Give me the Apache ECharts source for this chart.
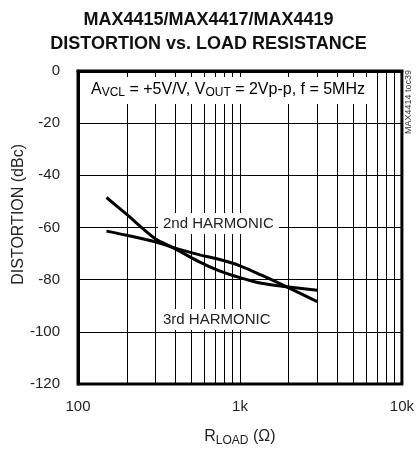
<!DOCTYPE html>
<html><head><meta charset="utf-8">
<script src="https://cdn.jsdelivr.net/npm/echarts@6/dist/echarts.min.js"></script>
<style>html,body{margin:0;padding:0;background:#fff}#c{width:417px;height:452px}</style>
</head><body><div id="c"></div>
<script>
var FONT = '"Liberation Sans Narrow", "Liberation Sans", sans-serif';
var titleLines = ['MAX4415/MAX4417/MAX4419', 'DISTORTION vs. LOAD RESISTANCE'];
var xTickLabels = {100: '100', 1000: '1k', 10000: '10k'};
var minorGridX = [200, 300, 400, 500, 600, 700, 800, 900, 2000, 3000, 4000, 5000, 6000, 7000, 8000, 9000];
// curve that starts steep and flattens
var curveA = [[150, -48.5], [200, -55.0], [300, -64.3], [383, -67.6], [557, -73.1], [739, -76.5], [1000, -79.2], [1359, -81.4], [1932, -82.7], [3000, -84.1]];
// curve that starts flat and steepens
var curveB = [[150, -61.4], [200, -63.0], [300, -65.5], [383, -67.6], [557, -70.4], [739, -72.2], [1000, -74.7], [1359, -78.3], [1932, -82.7], [3000, -88.4]];

var chart = echarts.init(document.getElementById('c'));
chart.setOption({
  animation: false,
  backgroundColor: '#fff',
  textStyle: {fontFamily: FONT},
  title: {
    text: titleLines.join('\n'),
    left: 'center', top: 3,
    textStyle: {fontFamily: FONT, fontWeight: 'bold', fontSize: 18, lineHeight: 24, color: '#111'}
  },
  grid: {left: 78, right: 12, top: 71, bottom: 55, show: true, borderColor: '#000', borderWidth: 3, backgroundColor: 'transparent'},
  xAxis: {
    type: 'log', logBase: 10, min: 100, max: 10000,
    axisLine: {show: true, lineStyle: {color: '#000', width: 3}},
    axisTick: {show: false},
    axisLabel: {fontFamily: FONT, fontSize: 15, color: '#222', margin: 15,
      formatter: function (v) { return xTickLabels[Math.round(v)] || ''; }},
    splitLine: {show: true, lineStyle: {color: '#000', width: 1}},
    name: '{r|R}{s|LOAD}{r| (Ω)}', nameLocation: 'middle', nameGap: 43,
    nameTextStyle: {rich: {
      r: {fontFamily: FONT, fontSize: 16, color: '#222'},
      s: {fontFamily: FONT, fontSize: 12, color: '#222', padding: [8, 0, 0, 0]}
    }}
  },
  yAxis: {
    type: 'value', min: -120, max: 0, interval: 20,
    axisLine: {show: true, lineStyle: {color: '#000', width: 3}},
    axisTick: {show: false},
    axisLabel: {fontFamily: FONT, fontSize: 15, color: '#222', margin: 18},
    splitLine: {show: true, lineStyle: {color: '#000', width: 1}}
  },
  graphic: [
    {type: 'text', left: 11, top: 144, rotation: Math.PI / 2, style: {text: 'DISTORTION (dBc)', font: '16px ' + FONT, fill: '#222'}},
    {type: 'text', left: 404, top: 70, rotation: Math.PI / 2, style: {text: 'MAX4414 toc39', font: '9px ' + FONT, fill: '#333'}},
    {type: 'text', left: 86, top: 77, z: 100, style: {
      text: '{t|A}{s|VCL}{t| = +5V/V, V}{s|OUT}{t| = 2Vp-p, f = 5MHz}',
      backgroundColor: '#fff', padding: [3, 5, 5, 5],
      rich: {
        t: {fontFamily: FONT, fontSize: 16, color: '#222'},
        s: {fontFamily: FONT, fontSize: 12, color: '#222', padding: [7, 0, 0, 0]}
      }
    }},
    {type: 'text', left: 158, top: 213, z: 100, style: {text: '2nd HARMONIC', font: '15px ' + FONT, fill: '#222', backgroundColor: '#fff', padding: [3, 5, 3, 5]}},
    {type: 'text', left: 158, top: 309, z: 100, style: {text: '3rd HARMONIC', font: '15px ' + FONT, fill: '#222', backgroundColor: '#fff', padding: [3, 5, 3, 5]}}
  ],
  series: [
    {type: 'line', data: curveA, smooth: 0.3, showSymbol: false, lineStyle: {color: '#000', width: 3}, z: 5,
      markLine: {silent: true, symbol: 'none', label: {show: false}, lineStyle: {color: '#000', width: 1, type: 'solid'},
        data: minorGridX.map(function (v) { return {xAxis: v}; })}},
    {type: 'line', data: curveB, smooth: 0.3, showSymbol: false, lineStyle: {color: '#000', width: 3}, z: 5}
  ]
});
</script></body></html>
